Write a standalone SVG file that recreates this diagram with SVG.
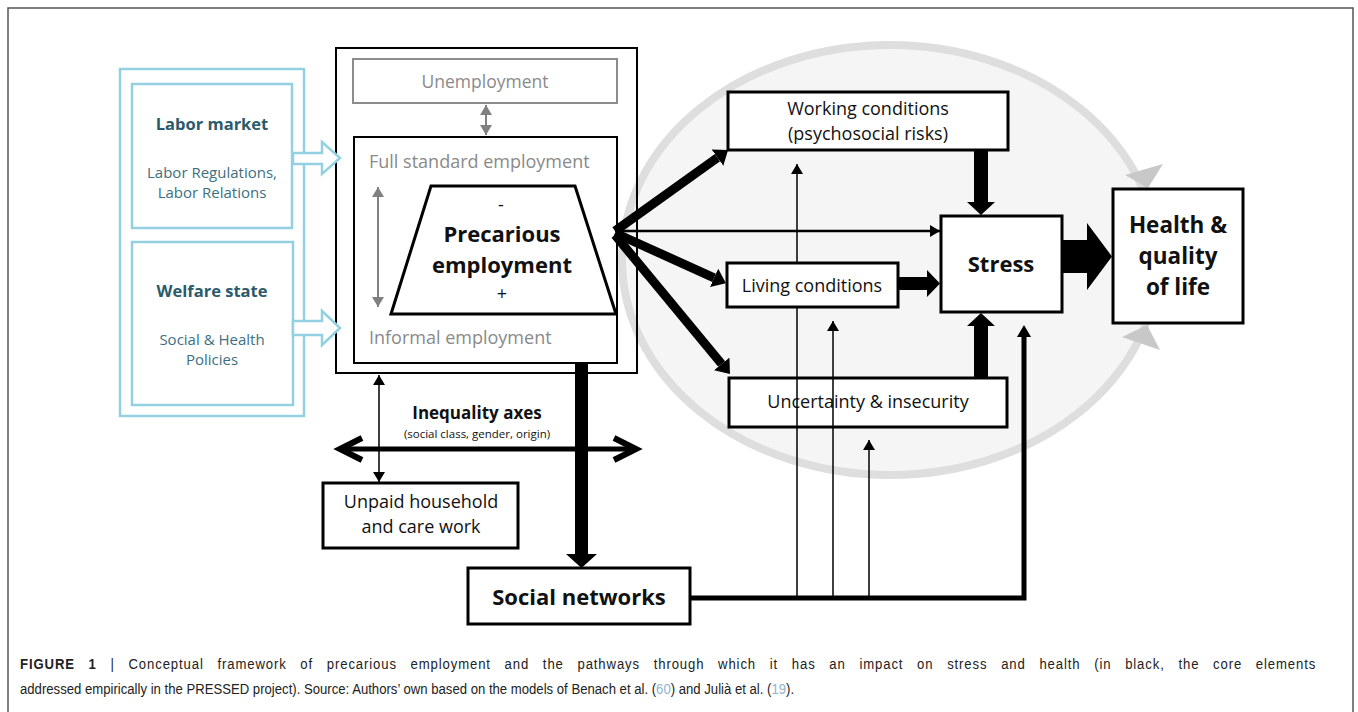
<svg xmlns="http://www.w3.org/2000/svg" width="1358" height="712" viewBox="0 0 1358 712">
<style>
.t{font-family:"Open Sans","Noto Sans",sans-serif;text-anchor:middle;fill:#111}
.b{font-weight:bold}
.box{fill:#fff;stroke:#000;stroke-width:3}
.blue{fill:none;stroke:#93d1e2;stroke-width:2.5}
.teal{font-family:"Open Sans","Noto Sans",sans-serif;text-anchor:middle;fill:#3d6f80}
.gray{font-family:"Open Sans","Noto Sans",sans-serif;fill:#8a8a8a}
.thin{stroke:#000;stroke-width:1.5;fill:none}
.thick{stroke:#000;stroke-width:9;fill:none;marker-end:url(#head)}
</style>
<defs>
<marker id="tri" markerUnits="userSpaceOnUse" markerWidth="10" markerHeight="12" viewBox="0 0 10 12" refX="10" refY="6" orient="auto-start-reverse"><path d="M0,0 L10,6 L0,12 Z" fill="#000"/></marker>
<marker id="trig" markerUnits="userSpaceOnUse" markerWidth="10" markerHeight="12" viewBox="0 0 10 12" refX="10" refY="6" orient="auto-start-reverse"><path d="M0,0 L10,6 L0,12 Z" fill="#808080"/></marker>
<marker id="triB" markerUnits="userSpaceOnUse" markerWidth="12" markerHeight="14" viewBox="0 0 12 14" refX="0" refY="7" orient="auto"><path d="M0,0 L12,7 L0,14 Z" fill="#000"/></marker>
<marker id="head" markerUnits="userSpaceOnUse" markerWidth="13" markerHeight="20" viewBox="0 0 13 20" refX="0" refY="10" orient="auto"><path d="M0,0 L13,10 L0,20 Z" fill="#000"/></marker>
</defs>
<rect width="1358" height="712" fill="#fff"/>
<path d="M8,712 V8 H1353 V712" fill="none" stroke="#555" stroke-width="1.5"/>

<g id="cycle">
<ellipse cx="890" cy="260" rx="268" ry="215" fill="#f5f5f5" stroke="#dedede" stroke-width="8"/>
<polygon points="1125,175 1163,164 1148,188" fill="#c8c8c8"/>
<polygon points="1122,337 1160,350 1147,325" fill="#c8c8c8"/>
</g>

<g id="context">
<rect class="blue" x="120" y="69" width="184" height="347"/>
<g id="labor-market">
<rect class="blue" x="132" y="84" width="160" height="144"/>
<text class="teal b" x="212" y="130" font-size="16.5" style="fill:#2b5a6a">Labor market</text>
<text class="teal" x="212" y="178" font-size="15">Labor Regulations,</text>
<text class="teal" x="212" y="198" font-size="15">Labor Relations</text>
</g>
<g id="welfare-state">
<rect class="blue" x="132" y="242" width="161" height="163"/>
<text class="teal b" x="212" y="297" font-size="16.5" style="fill:#2b5a6a">Welfare state</text>
<text class="teal" x="212" y="345" font-size="15">Social &amp; Health</text>
<text class="teal" x="212" y="365" font-size="15">Policies</text>
</g>
</g>

<g id="employment">
<rect x="336" y="48" width="301" height="325" fill="none" stroke="#000" stroke-width="2"/>
<g id="unemployment">
<rect x="353" y="59" width="264" height="44" fill="#fff" stroke="#8c8c8c" stroke-width="2"/>
<text class="gray" x="485" y="88" font-size="17.5" text-anchor="middle">Unemployment</text>
</g>
<g id="employment-scale">
<rect x="354" y="137" width="263" height="226" fill="#fff" stroke="#000" stroke-width="2"/>
<text class="gray" x="369" y="168" font-size="18">Full standard employment</text>
<text class="gray" x="369" y="344" font-size="18">Informal employment</text>
</g>
<g id="precarious">
<polygon points="431,186 575,186 616,314 391,314" fill="#fff" stroke="#000" stroke-width="3"/>
<text class="t" x="501" y="211" font-size="18">-</text>
<text class="t b" x="502" y="242" font-size="22">Precarious</text>
<text class="t b" x="502" y="273" font-size="22">employment</text>
<text class="t" x="502" y="300" font-size="18">+</text>
</g>
</g>

<g id="working-conditions">
<rect class="box" x="728" y="92" width="280" height="58"/>
<text class="t" x="868" y="115" font-size="18">Working conditions</text>
<text class="t" x="868" y="140" font-size="18">(psychosocial risks)</text>
</g>
<g id="stress">
<rect class="box" x="941" y="216" width="121" height="96"/>
<text class="t b" x="1001" y="272" font-size="22">Stress</text>
</g>
<g id="health">
<rect class="box" x="1113" y="189" width="130" height="134"/>
<text class="t b" x="1178" y="233" font-size="22.5">Health &amp;</text>
<text class="t b" x="1178" y="264" font-size="22.5">quality</text>
<text class="t b" x="1178" y="295" font-size="22.5">of life</text>
</g>
<g id="uncertainty">
<rect class="box" x="729" y="378" width="278" height="49"/>
<text class="t" x="868" y="408" font-size="18">Uncertainty &amp; insecurity</text>
</g>
<g id="unpaid">
<rect class="box" x="323" y="483" width="195" height="65" stroke-width="2.5"/>
<text class="t" x="421" y="508" font-size="18">Unpaid household</text>
<text class="t" x="421" y="533" font-size="18">and care work</text>
</g>
<g id="social-networks">
<rect class="box" x="468" y="568" width="222" height="56"/>
<text class="t b" x="579" y="605" font-size="22">Social networks</text>
</g>
<g id="inequality">
<text class="t b" x="477" y="419" font-size="17">Inequality axes</text>
<text class="t" x="477" y="438" font-size="11.5">(social class, gender, origin)</text>
</g>

<g id="connectors">
<polygon points="293,153 322,153 322,142 340,158 322,174 322,164 293,164" fill="#fff" stroke="#93d1e2" stroke-width="2.5"/>
<polygon points="293,321 322,321 322,311 340,328 322,345 322,335 293,335" fill="#fff" stroke="#93d1e2" stroke-width="2.5"/>
<line x1="486" y1="105" x2="486" y2="135" stroke="#808080" stroke-width="2" marker-start="url(#trig)" marker-end="url(#trig)"/>
<line x1="378" y1="187" x2="378" y2="307" stroke="#808080" stroke-width="2" marker-start="url(#trig)" marker-end="url(#trig)"/>
<line class="thick" x1="615" y1="231" x2="717.5" y2="157.6"/>
<line class="thick" x1="615" y1="233" x2="714.1" y2="277.8"/>
<line class="thick" x1="615" y1="235" x2="721.7" y2="364"/>
<line x1="615" y1="231" x2="940" y2="231" stroke="#000" stroke-width="2.5" marker-end="url(#tri)"/>
<path d="M974,150 H988 V202 H995 L981,215 L967,202 H974 Z"/>
<path d="M974,378 H988 V326 H995 L981,313 L967,326 H974 Z"/>
<path d="M898,277 H927 V270 L940,283.5 L927,297 V290 H898 Z"/>
<path d="M1062,240 H1087 V223 L1112,256.5 L1087,290 V273 H1062 Z"/>
<path d="M575,363 H588 V554 H597 L581.5,568 L566,554 H575 Z"/>
<line class="thin" x1="797" y1="598" x2="797" y2="164" marker-end="url(#tri)"/>
<line class="thin" x1="833" y1="598" x2="833" y2="321" marker-end="url(#tri)"/>
<line class="thin" x1="869" y1="598" x2="869" y2="440" marker-end="url(#tri)"/>
<path d="M690,598 H1024 V337" fill="none" stroke="#000" stroke-width="5" marker-end="url(#triB)"/>
<line class="thin" x1="379" y1="375" x2="379" y2="482" marker-start="url(#tri)" marker-end="url(#tri)"/>
<line x1="342" y1="449" x2="634" y2="449" stroke="#000" stroke-width="5"/>
<path d="M362,438 L340,449 L362,460 M614,438 L636,449 L614,460" fill="none" stroke="#000" stroke-width="6" stroke-linejoin="miter"/>
</g>

<g id="living-conditions">
<rect class="box" x="727" y="263" width="171" height="44"/>
<text class="t" x="812" y="292" font-size="18">Living conditions</text>
</g>

<g id="caption" font-family="'Liberation Sans',Arial,sans-serif" font-size="15" fill="#222" transform="translate(20,0) scale(0.876,1)">
<text x="0" y="669" letter-spacing="1" word-spacing="10.5"><tspan font-weight="bold">FIGURE 1</tspan> | Conceptual framework of precarious employment and the pathways through which it has an impact on stress and health (in black, the core elements</text>
<text x="0" y="694">addressed empirically in the PRESSED project). Source: Authors’ own based on the models of Benach et al. (<tspan fill="#8fb3cf">60</tspan>) and Julià et al. (<tspan fill="#8fb3cf">19</tspan>).</text>
</g>
</svg>
